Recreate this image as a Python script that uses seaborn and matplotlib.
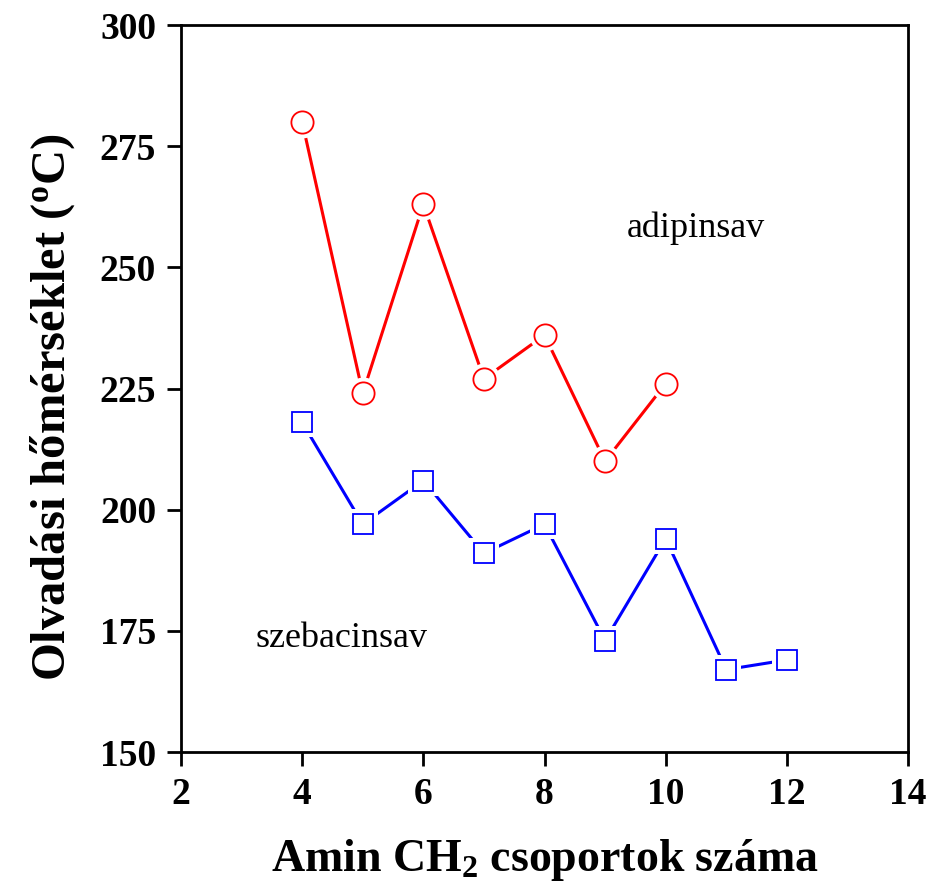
import matplotlib
matplotlib.use("Agg")
import matplotlib.pyplot as plt
import seaborn as sns
import pandas as pd

adip_x = [4, 5, 6, 7, 8, 9, 10]
adip_y = [280, 224, 263, 227, 236, 210, 226]
szeb_x = [4, 5, 6, 7, 8, 9, 10, 11, 12]
szeb_y = [218, 197, 206, 191, 197, 173, 194, 167, 169]
xticks = [2, 4, 6, 8, 10, 12, 14]
yticks = [150, 175, 200, 225, 250, 275, 300]

sns.set_style("ticks")
plt.rcParams['font.family'] = ['Liberation Serif', 'DejaVu Serif']
plt.rcParams['text.color'] = 'black'
plt.rcParams['axes.labelcolor'] = 'black'
plt.rcParams['xtick.color'] = 'black'
plt.rcParams['ytick.color'] = 'black'
plt.rcParams['mathtext.fontset'] = 'custom'
plt.rcParams['mathtext.rm'] = 'Liberation Serif:bold'
plt.rcParams['mathtext.default'] = 'regular'

fig = plt.figure(figsize=(9.4, 8.9), dpi=100)
ax = fig.add_axes([181/940, 1-752/890, (908-181)/940, (752-25)/890])

df_a = pd.DataFrame({'x': adip_x, 'y': adip_y})
df_s = pd.DataFrame({'x': szeb_x, 'y': szeb_y})

for df, col, mk, ms in [(df_a, '#ff0000', 'o', 16), (df_s, '#0000ff', 's', 14)]:
    sns.lineplot(data=df, x='x', y='y', ax=ax, color=col, lw=2.2, zorder=2)
    # white halo producing the gap between line and marker
    sns.lineplot(data=df, x='x', y='y', ax=ax, lw=0, marker=mk,
                 markersize=ms + 7, markerfacecolor='white',
                 markeredgecolor='white', markeredgewidth=0, zorder=3)
    sns.lineplot(data=df, x='x', y='y', ax=ax, lw=0, marker=mk,
                 markersize=ms, markerfacecolor='white',
                 markeredgecolor=col, markeredgewidth=1.3, zorder=4)

ax.set_xlim(2, 14)
ax.set_ylim(150, 300)
ax.set_xticks(xticks)
ax.set_yticks(yticks)
ax.set_xticklabels([str(v) for v in xticks], fontsize=27, fontweight='bold')
ax.set_yticklabels([str(v) for v in yticks], fontsize=27, fontweight='bold')
ax.tick_params(direction='out', length=10, width=2, pad=8, color='black')
ax.tick_params(axis='x', top=False)
ax.tick_params(axis='y', right=False)
for s in ax.spines.values():
    s.set_linewidth(2)
    s.set_color('black')
    s.set_visible(True)

ax.set_xlabel(r'Amin CH$_2$ csoportok száma', fontsize=33, fontweight='bold', labelpad=18)
ax.set_ylabel(r'Olvadási hőmérséklet ($^{o}$C)', fontsize=35, fontweight='bold')
ax.yaxis.set_label_coords(-0.143, 0.4746)

ax.text(10.5, 258, 'adipinsav', fontsize=26, ha='center', va='center')
ax.text(4.65, 173.5, 'szebacinsav', fontsize=26, ha='center', va='center')

fig.savefig('out.png', dpi=100)
